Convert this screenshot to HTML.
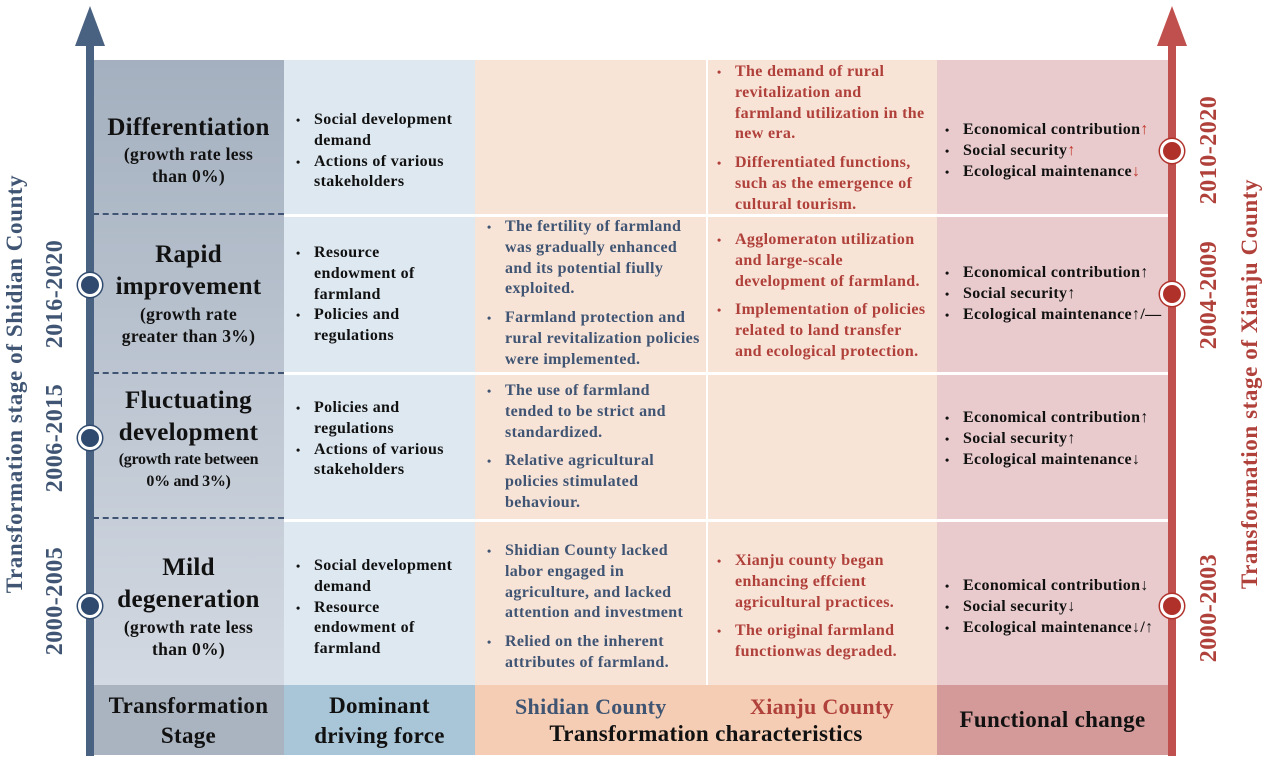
<!DOCTYPE html>
<html><head><meta charset="utf-8"><style>
body{margin:0;width:1268px;height:764px;background:#fff;position:relative;overflow:hidden;font-family:"Liberation Serif",serif;font-weight:bold}
.a{position:absolute}
.t{position:absolute;font-size:16px;letter-spacing:0.35px;line-height:20.8px;color:#111}
.t ul{margin:0;padding:0;list-style:none}
.t li{position:relative;padding-left:18px}
.t li:before{content:"•";position:absolute;left:0;font-size:12px}
.b{color:#3f5573}.r{color:#b0403a}
.st{position:absolute;left:93px;width:191px;text-align:center;color:#111}
.st .h{font-size:25px;line-height:31px;letter-spacing:0.3px}
.st .s{font-size:17.5px;line-height:22px;letter-spacing:0.3px}
.gap li+li{margin-top:8px}
.ar{color:#c0392b}
.vt{position:absolute;transform:rotate(-90deg);transform-origin:center;white-space:nowrap;text-align:center}
.dash{position:absolute;left:93px;width:191px;border-top:2px dashed #3f5573}
.c{position:absolute;width:24px;height:24px;border-radius:50%;box-sizing:border-box}
</style></head><body>
<div class="a" style="left:93px;top:60px;width:191px;height:625px;background:linear-gradient(#a4b0bf,#d3d9e2)"></div>
<div class="a" style="left:284px;top:60px;width:191px;height:625px;background:#dde8f1"></div>
<div class="a" style="left:475px;top:60px;width:462px;height:625px;background:#f8e3d7"></div>
<div class="a" style="left:937px;top:60px;width:231px;height:625px;background:#e9cbcd"></div>
<div class="a" style="left:284px;top:214px;width:884px;height:3px;background:#fff"></div>
<div class="a" style="left:284px;top:372px;width:884px;height:3px;background:#fff"></div>
<div class="a" style="left:284px;top:519px;width:884px;height:3px;background:#fff"></div>
<div class="a" style="left:706px;top:60px;width:2px;height:625px;background:#fff"></div>
<div class="dash" style="top:213px"></div>
<div class="dash" style="top:372px"></div>
<div class="dash" style="top:517px"></div>
<div class="a" style="left:93px;top:685px;width:191px;height:70px;background:#aab4c1"></div>
<div class="a" style="left:284px;top:685px;width:191px;height:70px;background:#a8c6d8"></div>
<div class="a" style="left:475px;top:685px;width:462px;height:70px;background:#f5cdb4"></div>
<div class="a" style="left:937px;top:685px;width:231px;height:70px;background:#d39a99"></div>
<div class="st" style="top:691px;font-size:23px;line-height:30px;letter-spacing:0.3px">Transformation<br>Stage</div>
<div class="st" style="left:284px;top:691px;font-size:23px;line-height:30px;letter-spacing:0.3px">Dominant<br>driving force</div>
<div class="a b" style="left:515px;top:694px;font-size:22px;letter-spacing:0.3px">Shidian County</div>
<div class="a r" style="left:750px;top:694px;font-size:22px;letter-spacing:0.3px">Xianju County</div>
<div class="a" style="left:475px;width:462px;top:721px;text-align:center;font-size:23px;letter-spacing:0.3px;color:#111">Transformation characteristics</div>
<div class="a" style="left:937px;width:231px;top:707px;text-align:center;font-size:23px;letter-spacing:0.3px;color:#111">Functional change</div>
<div class="a" style="left:86px;top:44px;width:8px;height:712px;background:#4a6282"></div>
<div class="a" style="left:75px;top:6px;width:0;height:0;border-left:15px solid transparent;border-right:15px solid transparent;border-bottom:40px solid #4a6282"></div>
<div class="a" style="left:1168px;top:44px;width:8px;height:712px;background:#c0504d"></div>
<div class="a" style="left:1157px;top:6px;width:0;height:0;border-left:15px solid transparent;border-right:15px solid transparent;border-bottom:40px solid #c0504d"></div>
<div class="c" style="left:78px;top:273px;background:#2f4a6e;border:3px solid #fff;box-shadow:0 0 0 1.5px #2f4a6e"></div>
<div class="c" style="left:78px;top:426px;background:#2f4a6e;border:3px solid #fff;box-shadow:0 0 0 1.5px #2f4a6e"></div>
<div class="c" style="left:78px;top:594px;background:#2f4a6e;border:3px solid #fff;box-shadow:0 0 0 1.5px #2f4a6e"></div>
<div class="c" style="left:1160px;top:139px;background:#b0302a;border:3px solid #fff;box-shadow:0 0 0 1.5px #b0302a"></div>
<div class="c" style="left:1160px;top:282px;background:#b0302a;border:3px solid #fff;box-shadow:0 0 0 1.5px #b0302a"></div>
<div class="c" style="left:1160px;top:594px;background:#b0302a;border:3px solid #fff;box-shadow:0 0 0 1.5px #b0302a"></div>
<div class="vt b" style="left:-235px;top:370px;width:500px;font-size:23px;line-height:28px;letter-spacing:0.6px">Transformation stage of Shidian County</div>
<div class="vt b" style="left:-5px;top:280px;width:120px;font-size:24px;line-height:28px;letter-spacing:0.5px">2016-2020</div>
<div class="vt b" style="left:-5px;top:424px;width:120px;font-size:24px;line-height:28px;letter-spacing:0.5px">2006-2015</div>
<div class="vt b" style="left:-5px;top:587px;width:120px;font-size:24px;line-height:28px;letter-spacing:0.5px">2000-2005</div>
<div class="vt r" style="left:1000px;top:370px;width:500px;font-size:23px;line-height:28px;letter-spacing:0.6px">Transformation stage of Xianju County</div>
<div class="vt r" style="left:1149px;top:136px;width:120px;font-size:24px;line-height:28px;letter-spacing:0.5px">2010-2020</div>
<div class="vt r" style="left:1149px;top:281px;width:120px;font-size:24px;line-height:28px;letter-spacing:0.5px">2004-2009</div>
<div class="vt r" style="left:1149px;top:594px;width:120px;font-size:24px;line-height:28px;letter-spacing:0.5px">2000-2003</div>
<div class="st" style="top:112px"><div class="h">Differentiation</div><div class="s">(growth rate less<br>than 0%)</div></div>
<div class="st" style="top:239px"><div class="h" style="line-height:32px">Rapid<br>improvement</div><div class="s">(growth rate<br>greater than 3%)</div></div>
<div class="st" style="top:385px"><div class="h" style="line-height:32px">Fluctuating<br>development</div><div class="s" style="font-size:16px;letter-spacing:-0.3px">(growth rate between<br>0% and 3%)</div></div>
<div class="st" style="top:552px"><div class="h" style="line-height:32px">Mild<br>degeneration</div><div class="s">(growth rate less<br>than 0%)</div></div>
<div class="t" style="left:296px;top:110px;width:185px"><ul><li>Social development demand</li><li>Actions of various stakeholders</li></ul></div>
<div class="t" style="left:296px;top:243px;width:150px"><ul><li>Resource endowment of farmland</li><li>Policies and regulations</li></ul></div>
<div class="t" style="left:296px;top:398px;width:160px"><ul><li>Policies and regulations</li><li>Actions of various stakeholders</li></ul></div>
<div class="t" style="left:296px;top:556px;width:150px"><ul><li style="white-space:nowrap">Social development</li><li style="list-style:none;margin-top:0;padding-left:18px" class="nb">demand</li><li>Resource endowment of farmland</li></ul></div>
<div class="t b gap" style="left:487px;top:217px;width:219px"><ul><li>The fertility of farmland was gradually enhanced and its potential fiully exploited.</li><li>Farmland protection and rural revitalization policies were implemented.</li></ul></div>
<div class="t b gap" style="left:487px;top:381px;width:210px"><ul><li>The use of farmland tended to be strict and standardized.</li><li>Relative agricultural policies stimulated behaviour.</li></ul></div>
<div class="t b gap" style="left:487px;top:541px;width:219px"><ul><li>Shidian County lacked labor engaged in agriculture, and lacked attention and investment</li><li>Relied on the inherent attributes of farmland.</li></ul></div>
<div class="t r gap" style="left:717px;top:62px;width:214px"><ul><li>The demand of rural revitalization and farmland utilization in the new era.</li><li>Differentiated functions, such as the emergence of cultural tourism.</li></ul></div>
<div class="t r gap" style="left:717px;top:230px;width:212px"><ul><li>Agglomeraton utilization and large-scale development of farmland.</li><li>Implementation of policies related to land transfer and ecological protection.</li></ul></div>
<div class="t r gap" style="left:717px;top:551px;width:200px"><ul><li>Xianju county began enhancing effcient agricultural practices.</li><li>The original farmland functionwas degraded.</li></ul></div>
<div class="t" style="left:945px;top:120px;width:230px"><ul><li style="white-space:nowrap">Economical contribution<span class="ar">↑</span></li><li>Social security<span class="ar">↑</span></li><li>Ecological maintenance<span class="ar">↓</span></li></ul></div>
<div class="t" style="left:945px;top:263px;width:230px"><ul><li style="white-space:nowrap">Economical contribution↑</li><li>Social security↑</li><li style="white-space:nowrap">Ecological maintenance↑/—</li></ul></div>
<div class="t" style="left:945px;top:408px;width:230px"><ul><li style="white-space:nowrap">Economical contribution↑</li><li>Social security↑</li><li>Ecological maintenance↓</li></ul></div>
<div class="t" style="left:945px;top:576px;width:230px"><ul><li style="white-space:nowrap">Economical contribution↓</li><li>Social security↓</li><li style="white-space:nowrap">Ecological maintenance↓/↑</li></ul></div>
<style>.nb:before{content:""!important}</style>
</body></html>
